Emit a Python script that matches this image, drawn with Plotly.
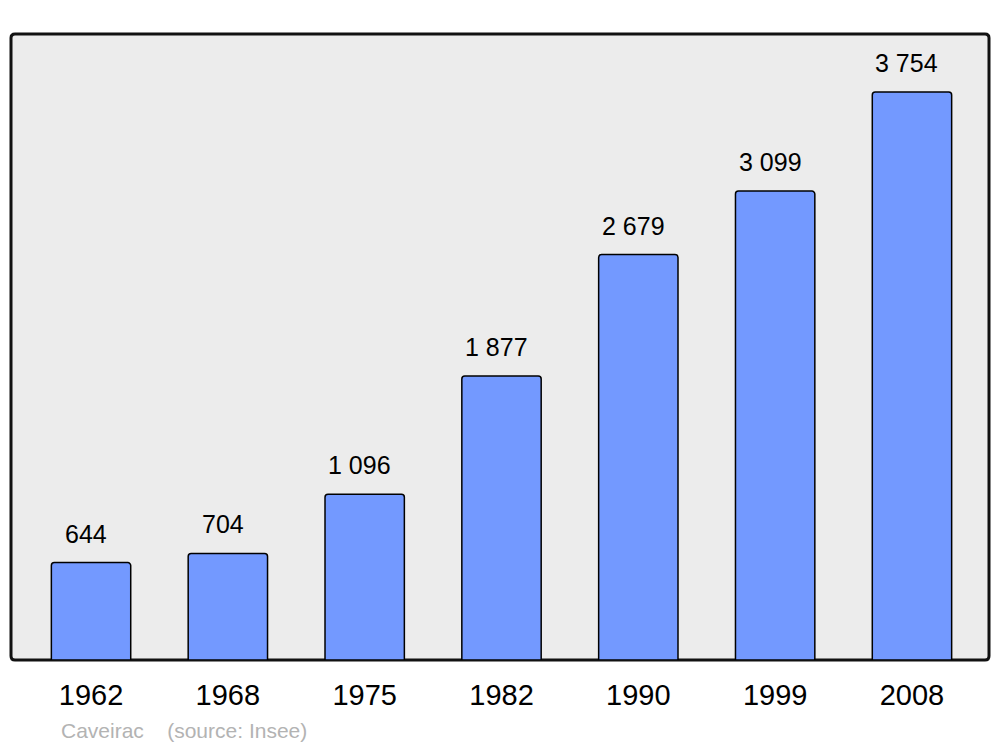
import plotly.graph_objects as go

years = ["1962", "1968", "1975", "1982", "1990", "1999", "2008"]
population = [644, 704, 1096, 1877, 2679, 3099, 3754]
labels = ["644", "704", "1 096", "1 877", "2 679", "3 099", "3 754"]
source_text = "Caveirac    (source: Insee)"

# page body has an 8px margin, so the figure is sized/offset to compensate
OFF = 8
W, H = 1000 - OFF, 747 - OFF
ml, mr, mt, mb = 11 - OFF, 11, 34 - OFF, 87
pw, ph = W - ml - mr, H - mt - mb

fig = go.Figure()
fig.add_trace(go.Bar(
    x=list(range(len(years))), y=population, width=0.58,
    marker=dict(color="#7399ff", line=dict(color="#000000", width=1.5), cornerradius=3),
    hoverinfo="skip",
))

for i, (v, t) in enumerate(zip(population, labels)):
    fig.add_annotation(x=i, y=v, text=t, showarrow=False, xanchor="center", yanchor="bottom",
                       xshift=-5, yshift=13, font=dict(family="Liberation Sans", size=25, color="#000"))

# rounded frame
r = 4
rx, ry = r / pw, r / ph
path = (f"M {rx},0 L {1-rx},0 Q 1,0 1,{ry} L 1,{1-ry} Q 1,1 {1-rx},1 L {rx},1 Q 0,1 0,{1-ry} "
        f"L 0,{ry} Q 0,0 {rx},0 Z")
fig.add_shape(type="path", xref="paper", yref="paper", path=path,
              line=dict(color="#111111", width=3), fillcolor="#ececec", layer="below")

fig.add_annotation(xref="paper", yref="paper", x=(59 - 11) / pw, y=-(730 - 660) / ph,
                   text=source_text.replace(" ", "&nbsp;"), showarrow=False, xanchor="left", yanchor="middle",
                   font=dict(family="Liberation Sans", size=21, color="#b3b3b3"))

fig.update_layout(
    width=W, height=H, margin=dict(l=ml, r=mr, t=mt, b=mb),
    paper_bgcolor="white", plot_bgcolor="rgba(0,0,0,0)", showlegend=False,
    xaxis=dict(range=[-0.585, 6.563], tickmode="array", tickvals=list(range(len(years))), ticktext=years,
               showgrid=False, zeroline=False, showline=False, ticks="",
               tickfont=dict(family="Liberation Sans", size=29, color="#000"), ticklabelstandoff=15),
    yaxis=dict(range=[0, 4137], showgrid=False, zeroline=False, showticklabels=False, showline=False),
)

fig.write_html("out.html")
